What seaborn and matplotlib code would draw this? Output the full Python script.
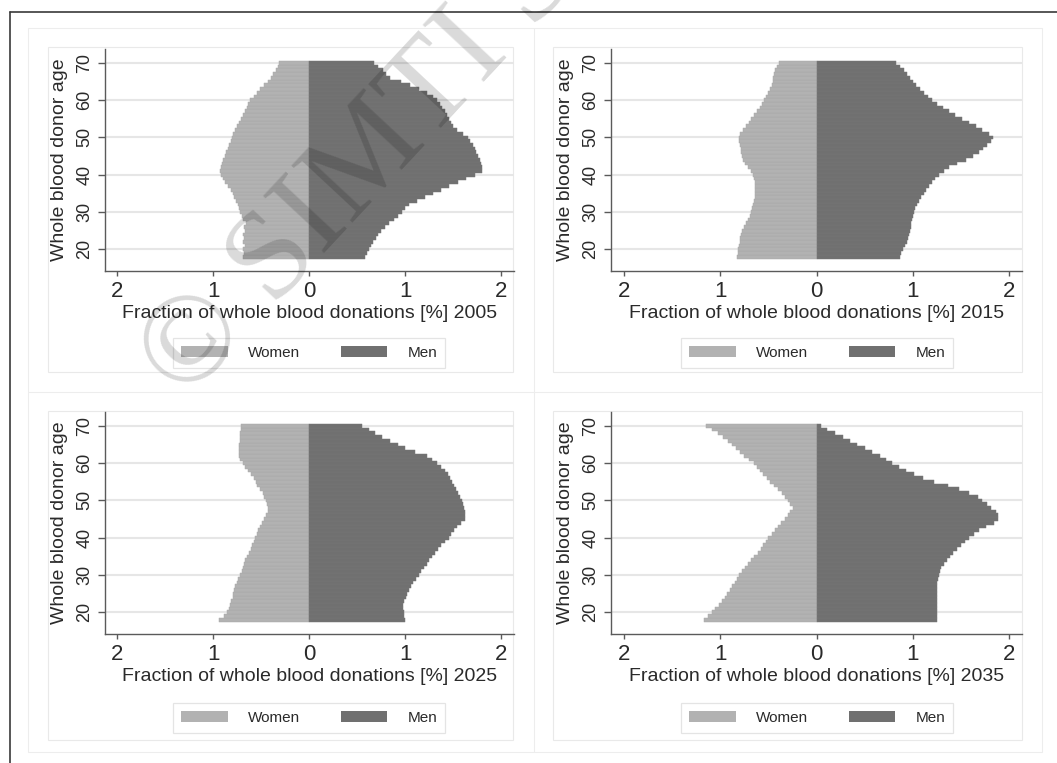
import matplotlib
matplotlib.use("Agg")
import matplotlib.pyplot as plt
from matplotlib.patches import Patch, Rectangle
from matplotlib.lines import Line2D
import pandas as pd
import seaborn as sns

# ---------------------------------------------------------------- data
ages = list(range(18, 71))
years = ["2005", "2015", "2025", "2035"]
xtick_values = [-2, -1, 0, 1, 2]
xtick_labels = ["2", "1", "0", "1", "2"]
ytick_values = [20, 30, 40, 50, 60, 70]

men_2005 = [0.58, 0.60, 0.62, 0.64, 0.66, 0.69, 0.72, 0.75, 0.79, 0.83,
            0.88, 0.92, 0.96, 1.00, 1.04, 1.12, 1.20, 1.29, 1.37, 1.45,
            1.55, 1.63, 1.72, 1.80, 1.80, 1.79, 1.78, 1.76, 1.74, 1.72,
            1.70, 1.67, 1.65, 1.60, 1.54, 1.50, 1.47, 1.45, 1.43, 1.41,
            1.38, 1.36, 1.33, 1.29, 1.22, 1.14, 1.05, 0.95, 0.84, 0.80,
            0.77, 0.72, 0.67]
women_2005 = [0.69, 0.68, 0.69, 0.67, 0.69, 0.68, 0.69, 0.67, 0.68, 0.66,
              0.69, 0.70, 0.72, 0.73, 0.74, 0.76, 0.78, 0.80, 0.82, 0.85,
              0.88, 0.90, 0.92, 0.93, 0.92, 0.91, 0.90, 0.88, 0.87, 0.85,
              0.84, 0.82, 0.81, 0.79, 0.77, 0.75, 0.73, 0.71, 0.69, 0.67,
              0.65, 0.64, 0.62, 0.58, 0.55, 0.51, 0.47, 0.43, 0.40, 0.38,
              0.35, 0.33, 0.32]

men_2015 = [0.87, 0.88, 0.90, 0.92, 0.94, 0.95, 0.96, 0.97, 0.98, 0.98,
            0.99, 1.00, 1.01, 1.02, 1.04, 1.06, 1.08, 1.11, 1.14, 1.17,
            1.20, 1.23, 1.27, 1.32, 1.37, 1.46, 1.55, 1.62, 1.68, 1.73,
            1.77, 1.81, 1.83, 1.79, 1.72, 1.65, 1.58, 1.51, 1.44, 1.37,
            1.31, 1.25, 1.20, 1.16, 1.11, 1.07, 1.03, 1.00, 0.97, 0.94,
            0.91, 0.87, 0.82]
women_2015 = [0.82, 0.81, 0.81, 0.80, 0.79, 0.79, 0.78, 0.77, 0.75, 0.73,
              0.71, 0.69, 0.68, 0.67, 0.66, 0.65, 0.64, 0.64, 0.64, 0.64,
              0.64, 0.65, 0.66, 0.68, 0.71, 0.74, 0.76, 0.77, 0.78, 0.78,
              0.79, 0.80, 0.80, 0.79, 0.76, 0.73, 0.70, 0.68, 0.65, 0.62,
              0.59, 0.56, 0.54, 0.52, 0.50, 0.48, 0.46, 0.45, 0.45, 0.44,
              0.43, 0.41, 0.39]

men_2025 = [1.00, 0.99, 0.99, 0.98, 0.98, 0.99, 1.01, 1.02, 1.04, 1.06,
            1.08, 1.11, 1.14, 1.16, 1.19, 1.22, 1.25, 1.28, 1.31, 1.34,
            1.37, 1.41, 1.45, 1.48, 1.51, 1.54, 1.58, 1.62, 1.62, 1.62,
            1.61, 1.60, 1.59, 1.57, 1.55, 1.53, 1.51, 1.49, 1.46, 1.44,
            1.41, 1.37, 1.33, 1.28, 1.22, 1.10, 1.00, 0.92, 0.84, 0.76,
            0.68, 0.62, 0.55]
women_2025 = [0.94, 0.89, 0.86, 0.84, 0.83, 0.82, 0.80, 0.79, 0.78, 0.77,
              0.75, 0.74, 0.72, 0.70, 0.69, 0.68, 0.67, 0.65, 0.63, 0.61,
              0.60, 0.58, 0.57, 0.55, 0.53, 0.51, 0.49, 0.47, 0.45, 0.43,
              0.43, 0.44, 0.45, 0.47, 0.48, 0.51, 0.54, 0.56, 0.58, 0.61,
              0.64, 0.67, 0.69, 0.72, 0.73, 0.73, 0.73, 0.73, 0.72, 0.72,
              0.72, 0.71, 0.71]

men_2035 = [1.25, 1.25, 1.25, 1.25, 1.25, 1.25, 1.25, 1.25, 1.25, 1.25,
            1.25, 1.26, 1.27, 1.28, 1.29, 1.32, 1.35, 1.38, 1.42, 1.46,
            1.50, 1.54, 1.58, 1.63, 1.69, 1.76, 1.84, 1.88, 1.88, 1.86,
            1.81, 1.77, 1.72, 1.67, 1.58, 1.48, 1.36, 1.22, 1.10, 1.01,
            0.93, 0.86, 0.78, 0.72, 0.66, 0.58, 0.50, 0.42, 0.35, 0.27,
            0.19, 0.11, 0.05]
women_2035 = [1.17, 1.12, 1.08, 1.05, 1.01, 0.98, 0.95, 0.93, 0.90, 0.88,
              0.85, 0.82, 0.80, 0.77, 0.74, 0.71, 0.68, 0.65, 0.61, 0.58,
              0.55, 0.52, 0.50, 0.46, 0.43, 0.40, 0.37, 0.33, 0.30, 0.27,
              0.24, 0.27, 0.30, 0.33, 0.36, 0.40, 0.44, 0.48, 0.51, 0.55,
              0.59, 0.62, 0.65, 0.70, 0.75, 0.79, 0.83, 0.88, 0.92, 0.97,
              1.02, 1.08, 1.15]

men_by_year = [men_2005, men_2015, men_2025, men_2035]
women_by_year = [women_2005, women_2015, women_2025, women_2035]

# ---------------------------------------------------------------- style
sns.set_theme(style="white")
plt.rcParams["font.family"] = ["Liberation Sans", "DejaVu Sans"]

TEXT = "#2a2a2a"
AXIS = "#5a5a5a"
GRID = "#e6e6e6"
BOX = "#e9e9e9"
WOMEN = "#b2b2b2"
MEN = "#707070"

W, H = 1057, 763
fig = plt.figure(figsize=(W / 100, H / 100), dpi=100)
fig.patch.set_facecolor("white")


def fx(x):
    return x / W


def fy(y):
    return 1 - y / H


def fig_line(x0, y0, x1, y1, color, lw):
    fig.add_artist(Line2D([fx(x0), fx(x1)], [fy(y0), fy(y1)],
                          transform=fig.transFigure, color=color, lw=lw,
                          zorder=0))


def fig_box(l, t, r, b, color, lw):
    fig.add_artist(Rectangle((fx(l), fy(b)), fx(r) - fx(l), fy(t) - fy(b),
                             transform=fig.transFigure, fill=False,
                             edgecolor=color, lw=lw, zorder=0))


# page frame and cell dividers
fig_line(10, 12, W, 12, "#3a3a3a", 1.2)
fig_line(10, 12, 10, H, "#3a3a3a", 1.2)
fig_box(28, 28, 1042, 752, "#ededed", 0.8)
fig_line(534, 28, 534, 752, "#ededed", 0.8)
fig_line(28, 392, 1042, 392, "#ededed", 0.8)

# panel geometry in pixels: axes (l, t, r, b), graph box, legend centre
panels = [
    dict(ax=(104.8, 49, 513.9, 271), box=(48, 47, 513, 372), leg=(309, 353)),
    dict(ax=(611.1, 49, 1021.9, 271), box=(553, 47, 1022, 372), leg=(817, 353)),
    dict(ax=(104.8, 412, 513.9, 634), box=(48, 411, 513, 740), leg=(309, 718)),
    dict(ax=(611.1, 412, 1021.9, 634), box=(553, 411, 1022, 740), leg=(817, 718)),
]

for year, men, women, geo in zip(years, men_by_year, women_by_year, panels):
    fig_box(*geo["box"], BOX, 0.8)
    l, t, r, b = geo["ax"]
    ax = fig.add_axes([fx(l), fy(b), fx(r) - fx(l), fy(t) - fy(b)])
    ax.set_facecolor("none")

    df = pd.DataFrame({"age": ages,
                       "women": [-v for v in women],
                       "men": men})
    sns.barplot(data=df, x="women", y="age", orient="y", native_scale=True,
                width=1.0, color=WOMEN, saturation=1, errorbar=None,
                edgecolor="#a9a9a9", linewidth=0.35, ax=ax)
    sns.barplot(data=df, x="men", y="age", orient="y", native_scale=True,
                width=1.0, color=MEN, saturation=1, errorbar=None,
                edgecolor="#787878", linewidth=0.35, ax=ax)

    ax.set_xlim(-2.13, 2.13)
    ax.set_ylim(14.2, 73.7)
    ax.set_xticks(xtick_values)
    ax.set_xticklabels(xtick_labels)
    ax.set_yticks(ytick_values)
    ax.set_yticklabels([str(v) for v in ytick_values])

    ax.yaxis.grid(True, color=GRID, lw=1.5)
    ax.xaxis.grid(False)
    ax.set_axisbelow(True)
    sns.despine(ax=ax)
    for side in ("left", "bottom"):
        ax.spines[side].set_color(AXIS)
        ax.spines[side].set_linewidth(1.0)

    ax.tick_params(axis="x", bottom=True, length=3.6, width=1.0, color=AXIS,
                   pad=3.6, labelsize=16, labelcolor=TEXT)
    ax.tick_params(axis="y", left=True, length=5, width=1.0, color=AXIS,
                   pad=3.3, labelsize=13, labelcolor=TEXT, labelrotation=90)
    for lab in ax.get_yticklabels():
        lab.set_verticalalignment("center")

    ax.set_xlabel(f"Fraction of whole blood donations [%] {year}",
                  fontsize=14, color=TEXT)
    ax.set_ylabel("Whole blood donor age", fontsize=14, color=TEXT)
    ax.xaxis.set_label_coords(0.5, -0.155)
    ax.yaxis.set_label_coords(-0.091, 0.5)

    handles = [Patch(facecolor=WOMEN, edgecolor="none", label="Women"),
               Patch(facecolor=MEN, edgecolor="none", label="Men")]
    leg = ax.legend(handles=handles, loc="center", ncol=2,
                    bbox_to_anchor=(fx(geo["leg"][0]), fy(geo["leg"][1])),
                    bbox_transform=fig.transFigure, fontsize=11,
                    frameon=True, fancybox=False, handlelength=3.05,
                    handleheight=0.72, handletextpad=1.3, columnspacing=2.7,
                    borderpad=0.55)
    leg.get_frame().set_edgecolor("#dedede")
    leg.get_frame().set_linewidth(0.9)
    for txt in leg.get_texts():
        txt.set_color(TEXT)

# copyright mark running diagonally across the sheet
fig.text(fx(185), fy(402), "\u00a9 SIMTI Servizi", rotation=47,
         rotation_mode="anchor", ha="left", va="baseline",
         fontsize=92, family=["Liberation Serif", "DejaVu Serif"],
         color="black", alpha=0.15, zorder=10)

fig.savefig("out.png", dpi=100)
